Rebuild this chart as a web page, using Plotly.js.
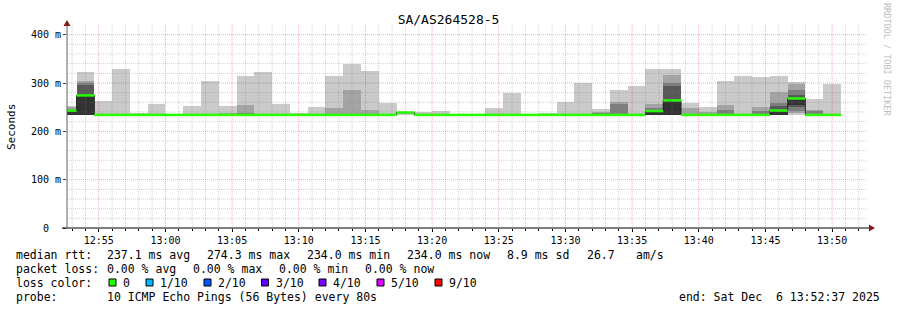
<!DOCTYPE html>
<html><head><meta charset="utf-8">
<script src="https://cdn.plot.ly/plotly-3.0.1.min.js"></script>
<style>html,body{margin:0;padding:0;background:#fff}</style>
</head><body><div id="chart" style="width:897px;height:310px"></div>
<script>
const chartTitle = 'SA/AS264528-5';
const day = '2025-12-06';
const stepSeconds = 80;
const viewStart = '12:52:37';
const viewEnd = '13:52:37';
const stepStarts = ['12:52:00','12:53:20','12:54:40','12:56:00','12:57:20','12:58:40','13:00:00','13:01:20','13:02:40','13:04:00','13:05:20','13:06:40','13:08:00','13:09:20','13:10:40','13:12:00','13:13:20','13:14:40','13:16:00','13:17:20','13:18:40','13:20:00','13:21:20','13:22:40','13:24:00','13:25:20','13:26:40','13:28:00','13:29:20','13:30:40','13:32:00','13:33:20','13:34:40','13:36:00','13:37:20','13:38:40','13:40:00','13:41:20','13:42:40','13:44:00','13:45:20','13:46:40','13:48:00','13:49:20'];
// sorted RTTs (ms) of the 10 pings of every step
const pings = [
 [234,234,234,234,234,240,244,247,250,252],
 [234,234,234,234,234,274,295,300,305,322],
 [234,234,234,234,234,234,234,234,234,262],
 [234,234,234,234,234,234,234,234,234,330],
 [234,234,234,234,234,234,234,234,234,238],
 [234,234,234,234,234,234,234,234,234,256],
 [234,234,234,234,234,234,234,234,234,234],
 [234,234,234,234,234,234,234,234,234,252],
 [234,234,234,234,234,234,234,234,234,304],
 [234,234,234,234,234,234,234,234,238,252],
 [234,234,234,234,234,234,234,237,255,314],
 [234,234,234,234,234,234,234,234,234,322],
 [234,234,234,234,234,234,234,234,234,256],
 [234,234,234,234,234,234,234,234,234,237],
 [234,234,234,234,234,234,234,234,234,250],
 [234,234,234,234,234,234,234,234,248,314],
 [234,234,234,234,234,234,234,234,285,339],
 [234,234,234,234,234,234,234,234,244,324],
 [234,234,234,234,234,234,234,234,234,259],
 [234,236,238,238,239,239,240,240,241,241],
 [234,234,234,234,234,234,234,234,234,239],
 [234,234,234,234,234,234,234,234,234,243],
 [234,234,234,234,234,234,234,234,234,234],
 [234,234,234,234,234,234,234,234,234,234],
 [234,234,234,234,234,234,234,234,234,248],
 [234,234,234,234,234,234,234,234,234,279],
 [234,234,234,234,234,234,234,234,234,234],
 [234,234,234,234,234,234,234,234,234,238],
 [234,234,234,234,234,234,234,234,234,260],
 [234,234,234,234,234,234,234,234,234,300],
 [234,234,234,234,234,234,234,237,240,246],
 [234,234,234,234,234,234,234,256,260,285],
 [234,234,234,234,234,234,234,234,234,293],
 [234,234,234,234,234,240,243,249,257,330],
 [234,234,234,234,234,264,293,300,316,328],
 [234,234,234,234,234,234,234,234,248,259],
 [234,234,234,234,234,234,234,234,239,250],
 [234,234,234,234,234,234,234,245,255,305],
 [234,234,234,234,234,234,234,234,234,314],
 [234,234,234,234,234,234,234,243,250,312],
 [234,234,234,234,234,243,252,258,282,314],
 [234,238,243,250,255,268,275,286,297,303],
 [234,234,234,234,234,234,234,242,245,267],
 [234,234,234,234,234,234,234,234,234,297]
];
const median = [243,274.3,234,234,234,234,234,234,234,234,234,234,234,234,234,234,234,234,234,239,234,234,234,234,234,234,234,234,234,234,234,234,234,242,264,234,234,234,234,234,243,268,234,234];
const lossCount = [0,0,0,0,0,0,0,0,0,0,0,0,0,0,0,0,0,0,0,0,0,0,0,0,0,0,0,0,0,0,0,0,0,0,0,0,0,0,0,0,0,0,0,0];
const smokeShades = ['#cacaca','#a4a4a4','#7e7e7e','#585858','#323232'];
const lossLabels = ['0','1/10','2/10','3/10','4/10','5/10','9/10'];
const lossColors = ['#26ff00','#00b8ff','#0059ff','#5e00ff','#7e00ff','#dd00ff','#ff0000'];
const lossLimits = [0,1,2,3,4,5,9];
const yTicks = [0,100,200,300,400];
const yTickText = ['0\u00a0\u00a0','100 m','200 m','300 m','400 m'];
const statsRtt = ['median rtt:','237.1 ms avg','274.3 ms max','234.0 ms min','234.0 ms now','8.9 ms sd','26.7','am/s'];
const statsLoss = ['packet loss:','0.00 % avg','0.00 % max','0.00 % min','0.00 % now'];
const probeText = ['probe:','10 ICMP Echo Pings (56 Bytes) every 80s'];
const endText = 'end: Sat Dec  6 13:52:37 2025';

const toMs = t => Date.parse(day + 'T' + t + 'Z');
const starts = stepStarts.map(toMs);
const stepMs = stepSeconds * 1000;
const x0 = toMs(viewStart), x1 = toMs(viewEnd);

// pixel geometry of plot area
const L = 67, R = 867, T = 25, B = 228;
const px = v => (v - L) / (R - L);
const py = v => (B - v) / (B - T);

const traces = [];
smokeShades.forEach((shade, i) => {
  const lo = pings.map(p => p[i]);
  const hi = pings.map(p => p[9 - i]);
  traces.push({type:'bar', x: starts, base: lo, y: hi.map((h, j) => h - lo[j]),
    width: stepMs, offset: 0, marker: {color: shade, line: {width: 0}},
    hoverinfo: 'skip', showlegend: false});
});
const last = starts.length - 1;
traces.push({type:'scatter', mode:'lines', x: starts.concat([starts[last] + stepMs]),
  y: median.concat([median[last]]), line: {shape:'hv', color:'#202020', width:1},
  hoverinfo:'skip', showlegend:false});
lossColors.forEach((c, ci) => {
  const gx = [], gy = [];
  starts.forEach((s, j) => {
    let idx = 0;
    lossLimits.forEach((lim, li) => { if (lossCount[j] >= lim) idx = li; });
    if (idx === ci) { gx.push(s, s + stepMs, null); gy.push(median[j], median[j], null); }
  });
  if (gx.length) traces.push({type:'scatter', mode:'lines', x: gx, y: gy,
    line: {color: c, width: 2.5}, hoverinfo:'skip', showlegend:false});
});

const mono = 'DejaVu Sans Mono';
const shapes = [];
const minorCol = 'rgba(128,128,128,0.36)', majorCol = 'rgba(255,0,0,0.34)';
// grid (drawn over the smoke like rrdtool)
for (let t = Math.ceil(x0 / 60000) * 60000; t <= x1; t += 60000) {
  const major = (t % 300000) === 0;
  shapes.push({type:'line', xref:'x', yref:'paper', x0:t, x1:t, y0:0, y1:1, layer:'above',
    line:{color: major ? majorCol : minorCol, width:1, dash:'1px,1px'}});
}
for (let v = 20; v <= 400; v += 20) {
  const major = v % 100 === 0;
  shapes.push({type:'line', xref:'paper', yref:'y', x0:0, x1:1, y0:v, y1:v, layer:'above',
    line:{color: major ? majorCol : minorCol, width:1, dash:'1px,1px'}});
}
// axes and arrows
shapes.push({type:'line', xref:'paper', yref:'paper', x0:px(62), x1:px(870), y0:0, y1:0, layer:'above', line:{color:'#000', width:1}});
shapes.push({type:'line', xref:'paper', yref:'paper', x0:0, x1:0, y0:0, y1:py(23), layer:'above', line:{color:'#606060', width:1}});
shapes.push({type:'path', xref:'paper', yref:'paper', layer:'above',
  path:`M${px(63.5)},${py(26)} L${px(70.5)},${py(26)} L${px(67)},${py(20)} Z`, fillcolor:'#8a1a1a', line:{width:0}});
shapes.push({type:'path', xref:'paper', yref:'paper', layer:'above',
  path:`M${px(869)},${py(224.5)} L${px(869)},${py(231.5)} L${px(875)},${py(228)} Z`, fillcolor:'#8a1a1a', line:{width:0}});

const annotations = [];
const txt = (text, x, y, opts) => Object.assign({text, xref:'paper', yref:'paper', x:px(x), y:py(y),
  xanchor:'left', yanchor:'middle', showarrow:false, borderpad:0, borderwidth:0,
  font:{family:mono, size:11.5, color:'#000'}}, opts || {});
const rttX = [16,107,207,307,407,507,586.5,636];
statsRtt.forEach((s, i) => annotations.push(txt(s, rttX[i], 254.5)));
const lossX = [16,107,193,279,365];
statsLoss.forEach((s, i) => annotations.push(txt(s, lossX[i], 268.5)));
annotations.push(txt('loss color:', 16, 282.5));
const boxX = [109,146,204,261.5,319,377,435];
lossLabels.forEach((s, i) => {
  annotations.push(txt(s, boxX[i] + 14, 282.5));
  shapes.push({type:'rect', xref:'paper', yref:'paper', x0:px(boxX[i]), x1:px(boxX[i] + 7),
    y0:py(286), y1:py(279), fillcolor: lossColors[i], line:{color:'#000', width:1}});
});
annotations.push(txt(probeText[0], 16, 296.5));
annotations.push(txt(probeText[1], 107, 296.5));
annotations.push(txt(endText, 880, 296.5, {xanchor:'right'}));
annotations.push(txt('Seconds', 11, 127, {xanchor:'center', textangle:-90, font:{family:mono, size:11, color:'#000'}}));
annotations.push(txt('RRDTOOL / TOBI OETIKER', 887, 60, {xanchor:'center', textangle:90, font:{family:mono, size:8.5, color:'#bdbdbd'}}));

const layout = {
  width: 897, height: 310,
  margin: {l: L, r: 897 - R, t: T, b: 310 - B, pad: 0},
  paper_bgcolor: '#ffffff', plot_bgcolor: '#ffffff',
  showlegend: false, barmode: 'overlay', bargap: 0,
  title: {text: chartTitle, x: 0.5, xanchor: 'center', y: 1 - 19/310, yanchor: 'middle',
    font: {family: mono, size: 13, color: '#000'}},
  xaxis: {type:'date', range:[x0, x1], tickformat:'%H:%M', dtick: 300000,
    showgrid:false, zeroline:false, showline:false,
    ticks:'outside', ticklen:3, tickcolor:'#000',
    minor:{dtick:60000, ticks:'outside', ticklen:2, tickcolor:'#000', showgrid:false},
    tickfont:{family:mono, size:10, color:'#000'}, fixedrange:true},
  yaxis: {range:[0, 420], tickmode:'array', tickvals:yTicks, ticktext:yTickText,
    showgrid:false, zeroline:false, showline:false,
    ticks:'outside', ticklen:3, tickcolor:'#404040',
    tickfont:{family:mono, size:10, color:'#000'}, fixedrange:true},
  shapes, annotations
};
Plotly.newPlot('chart', traces, layout, {displayModeBar:false, staticPlot:true});
</script></body></html>
